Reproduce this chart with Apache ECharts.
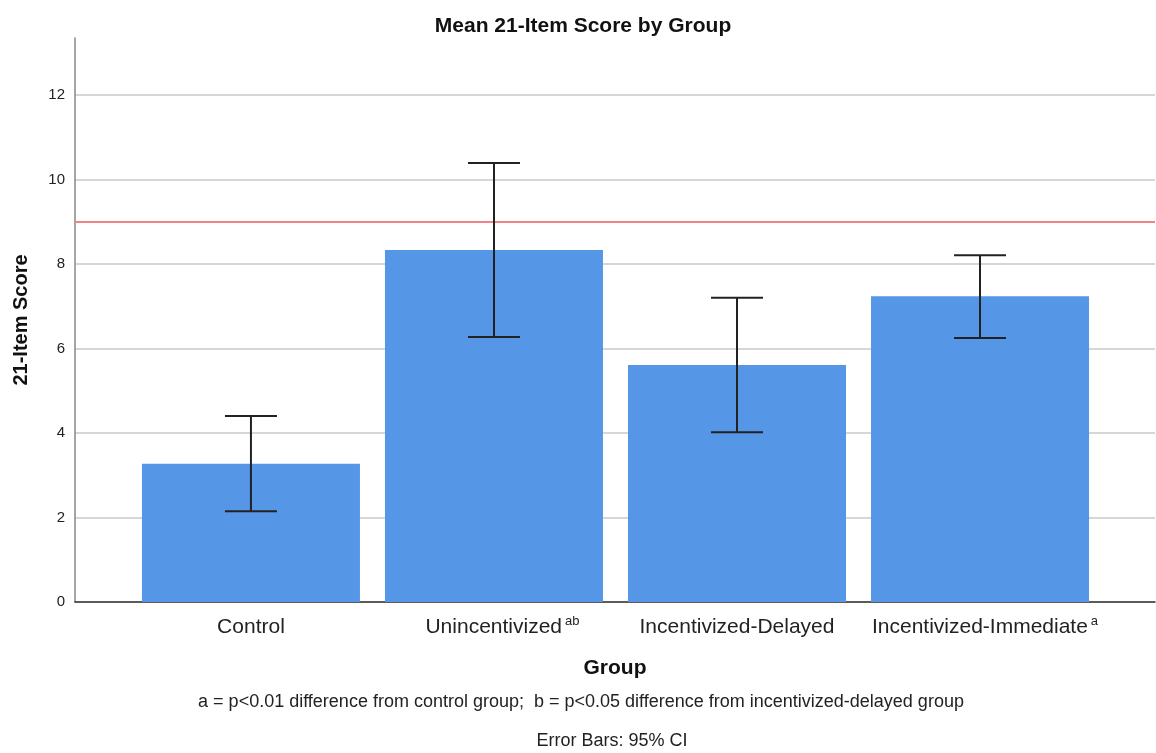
<!DOCTYPE html>
<html>
<head>
<meta charset="utf-8">
<script src="https://cdn.jsdelivr.net/npm/echarts@6/dist/echarts.min.js"></script>
<style>
  html, body { margin: 0; padding: 0; background: #fff; }
  #chart { width: 1156px; height: 753px; }
</style>
</head>
<body>
<div id="chart"></div>
<script>
// data
var groups = ['Control', 'Unincentivized', 'Incentivized-Delayed', 'Incentivized-Immediate'];
var marks = ['', 'ab', '', 'a'];
var means = [3.27, 8.33, 5.61, 7.24];
var ciLow = [2.15, 6.27, 4.02, 6.25];
var ciHigh = [4.40, 10.39, 7.20, 8.21];
var yTicks = [0, 2, 4, 6, 8, 10, 12];
var refLine = 9;

var font = 'Liberation Sans, Arial, sans-serif';
var myChart = echarts.init(document.getElementById('chart'));

var barData = means.map(function (v, i) { return [i, v]; });
var errData = means.map(function (v, i) { return [i, ciLow[i], ciHigh[i]]; });

var option = {
	backgroundColor: '#fff',
	animation: false,
	title: {
		text: 'Mean 21-Item Score by Group',
		left: 578, top: 11, textAlign: 'center',
		textStyle: { fontFamily: font, fontSize: 21, fontWeight: 'bold', color: '#111' }
	},
	grid: { left: 75, top: 38, right: 1, bottom: 151 },
	xAxis: {
		type: 'value',
		min: -0.724, max: 3.72,
		axisLine: { show: true, lineStyle: { color: '#333', width: 1.5 } },
		axisTick: { show: false },
		splitLine: { show: false },
		axisLabel: {
			customValues: [0, 1, 2, 3],
			margin: 11,
			formatter: function (v) {
				var i = Math.round(v);
				var s = '{n|' + groups[i] + '}';
				// pad on the left so the group name itself stays centred on its bar
				if (marks[i]) s = '{p' + marks[i].length + '|}' + s + '{s|' + marks[i] + '}';
				return s;
			},
			rich: {
				n: { fontFamily: font, fontSize: 21, lineHeight: 28, color: '#222' },
				s: { fontFamily: font, fontSize: 13, lineHeight: 14, color: '#222', padding: [0, 0, 12, 3] },
				p1: { width: 10 },
				p2: { width: 17 }
			}
		},
		name: 'Group',
		nameLocation: 'middle',
		nameGap: 56,
		nameTextStyle: { fontFamily: font, fontSize: 21, fontWeight: 'bold', color: '#111' }
	},
	yAxis: {
		type: 'value',
		min: 0, max: 13.35, interval: 2,
		axisLine: { show: true, onZero: false, lineStyle: { color: '#888', width: 1.5 } },
		axisTick: { show: false },
		axisLabel: { showMaxLabel: false, margin: 10, fontFamily: font, fontSize: 15, color: '#222' },
		splitLine: { showMaxLine: false, lineStyle: { color: '#c8c8c8', width: 1.5 } },
		name: '21-Item Score',
		nameLocation: 'middle',
		nameGap: 44,
		nameTextStyle: { fontFamily: font, fontSize: 20, fontWeight: 'bold', color: '#111' }
	},
	graphic: [
		{ type: 'text', x: 581, y: 702, style: { text: 'a = p<0.01 difference from control group;  b = p<0.05 difference from incentivized-delayed group', font: '18px ' + font, fill: '#222', align: 'center', verticalAlign: 'middle' } },
		{ type: 'text', x: 612, y: 741, style: { text: 'Error Bars: 95% CI', font: '18px ' + font, fill: '#222', align: 'center', verticalAlign: 'middle' } }
	],
	series: [
		{
			type: 'bar',
			data: barData,
			barWidth: 218,
			itemStyle: { color: '#5596e6' },
			markLine: {
				silent: true,
				symbol: 'none',
				label: { show: false },
				lineStyle: { color: '#f08383', width: 2, type: 'solid' },
				data: [{ yAxis: refLine }]
			}
		},
		{
			type: 'custom',
			data: errData,
			z: 5,
			renderItem: function (params, api) {
				var x = api.value(0);
				var lo = api.coord([x, api.value(1)]);
				var hi = api.coord([x, api.value(2)]);
				var hw = 26;
				var st = { stroke: '#222', lineWidth: 2 };
				return {
					type: 'group',
					children: [
						{ type: 'line', shape: { x1: lo[0], y1: lo[1], x2: hi[0], y2: hi[1] }, style: st },
						{ type: 'line', shape: { x1: hi[0] - hw, y1: hi[1], x2: hi[0] + hw, y2: hi[1] }, style: st },
						{ type: 'line', shape: { x1: lo[0] - hw, y1: lo[1], x2: lo[0] + hw, y2: lo[1] }, style: st }
					]
				};
			}
		}
	]
};
myChart.setOption(option);
</script>
</body>
</html>
